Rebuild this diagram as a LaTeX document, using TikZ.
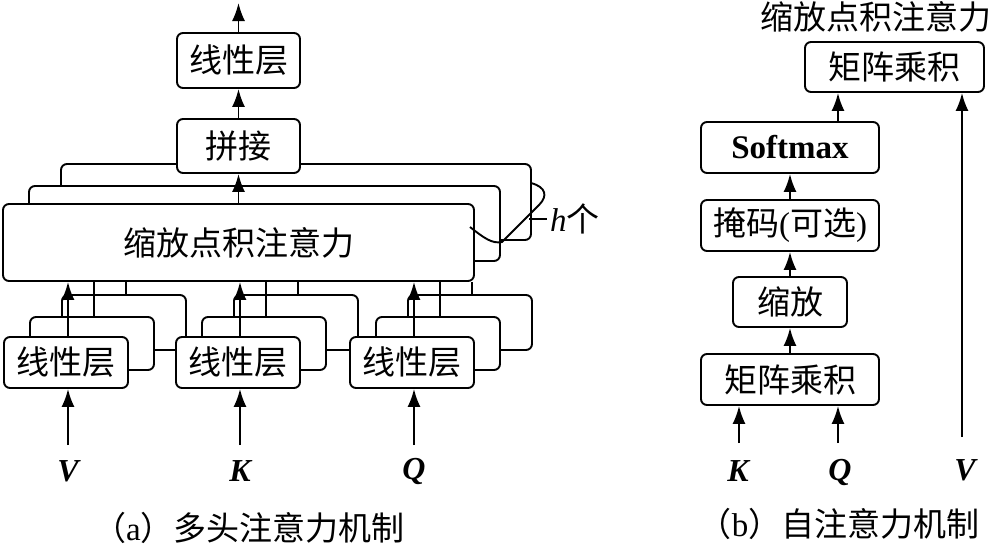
\documentclass[tikz,border=0pt]{standalone}
\usepackage{fontspec}
\setmainfont{Liberation Serif}
\newfontfamily\cjk{Noto Sans CJK SC}
\usetikzlibrary{arrows.meta}
\begin{document}
\begin{tikzpicture}[x=1pt,y=-1pt,
  font=\fontsize{33}{38}\selectfont,
  lw/.style={line width=1.9pt},
  box/.style={draw, line width=1.9pt, rounded corners=6pt, fill=white, inner sep=0pt},
  arr/.style={line width=1.9pt, -{Latex[length=18pt,width=13pt]}},
  inlab/.style={font=\fontsize{32}{36}\selectfont\bfseries\itshape, inner sep=0pt}
]
\useasboundingbox (0,0) rectangle (998,547);

% ---------- (a) multi-head attention ----------
\node[box, minimum width=470pt, minimum height=76pt] (att3) at (296,202) {};
\node[box, minimum width=471pt, minimum height=75pt] (att2) at (264.5,223.5) {};
\node[box, minimum width=471pt, minimum height=77pt] (att1) at (238.5,242.5) {\cjk 缩放点积注意力};

\node[box, minimum width=123pt, minimum height=54pt] (concat) at (238.5,146) {\cjk 拼接};
\node[box, minimum width=123pt, minimum height=55pt] (lintop) at (238.5,60.5) {\cjk 线性层};
\coordinate (out) at (238.5,3);
\draw[arr] (att1.north) -- (concat.south);
\draw[arr] (concat.north) -- (lintop.south);
\draw[arr] (lintop.north) -- (out);

\foreach \n/\c in {a/66, b/238, c/412} {
  \node[box, minimum width=124pt, minimum height=55pt] (l\n3) at (\c+58,322.5) {};
}
\foreach \n/\c in {a/66, b/238, c/412} {
  \node[box, minimum width=124pt, minimum height=53pt] (l\n2) at (\c+26,343.5) {};
}
\foreach \n/\c/\lab in {a/66/V, b/238/K, c/412/Q} {
  \node[box, minimum width=124pt, minimum height=51pt] (l\n1) at (\c,362.5) {\cjk 线性层};
  \draw[arr] ([xshift=2pt]l\n1.north) -- ([xshift=2pt]l\n1.north |- att1.south);
  \draw[lw] ([xshift=2pt]l\n2.north) -- ([xshift=2pt]l\n2.north |- att1.south);
  \draw[lw] ([xshift=2pt]l\n3.north) -- ([xshift=2pt]l\n3.north |- att1.south);
  \node[inlab] (in\n) at (\c+2,471) {\lab};
  \coordinate (s\n) at (\c+2,445);
  \draw[arr] (s\n) -- (s\n |- l\n1.south);
}

% h heads brace
\draw[lw] (470,227) .. controls (484,238) and (492,244) .. (502,242)
  -- (539,205) .. controls (548,196) and (546,187) .. (531,183);
\coordinate (tk) at (529,219);
\node[anchor=west, inner sep=3pt] (hl) at (547,219) {\itshape h{\cjk 个}};
\draw[lw] (tk) -- (hl.west);

\node (capa) at (249,528) {{\cjk （}a{\cjk ）多头注意力机制}};

% ---------- (b) self-attention ----------
\node (title) at (876,17) {\cjk 缩放点积注意力};
\node[box, minimum width=179pt, minimum height=50pt] (mmtop) at (894.5,67) {\cjk 矩阵乘积};
\node[box, minimum width=178pt, minimum height=51pt] (sm) at (790,147.5) {\bfseries Softmax};
\node[box, minimum width=178pt, minimum height=51pt] (mask) at (790,225.5) {{\cjk 掩码}({\cjk 可选})};
\node[box, minimum width=114pt, minimum height=50pt] (scl) at (790,302) {\cjk 缩放};
\node[box, minimum width=178pt, minimum height=51pt] (mmbot) at (790,379.5) {\cjk 矩阵乘积};

\draw[arr] (mmbot.north) -- (scl.south);
\draw[arr] (scl.north) -- (mask.south);
\draw[arr] (mask.north) -- (sm.south);
\draw[arr] ([xshift=48pt]sm.north) -- ([xshift=48pt]sm.north |- mmtop.south);

\coordinate (kb) at (739,443);
\coordinate (qb) at (838,443);
\coordinate (vb) at (962,437);
\draw[arr] (kb) -- (kb |- mmbot.south);
\draw[arr] (qb) -- (qb |- mmbot.south);
\draw[arr] (vb) -- (vb |- mmtop.south);
\node[inlab] (kr) at (738,471) {K};
\node[inlab] (qr) at (840,472) {Q};
\node[inlab] (vr) at (965,470) {V};

\node (capb) at (839,524) {{\cjk （}b{\cjk ）自注意力机制}};
\end{tikzpicture}
\end{document}
